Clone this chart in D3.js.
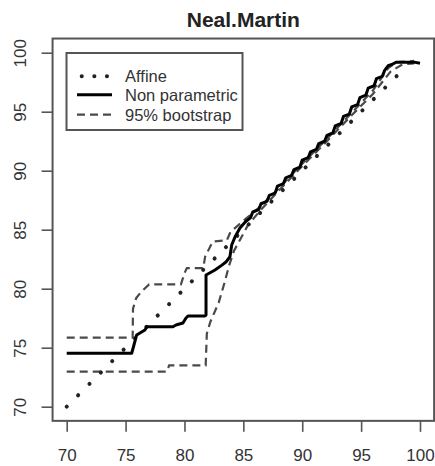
<!DOCTYPE html>
<html>
<head>
<meta charset="utf-8">
<script src="https://cdn.jsdelivr.net/npm/d3@7"></script>
<style>
  body { margin: 0; background: #fff; }
  text { font-family: "Liberation Sans", Arial, sans-serif; }
</style>
</head>
<body>
<svg id="chart"></svg>
<script>
// chart title and legend labels
var title = "Neal.Martin";
var legendLabels = ["Affine", "Non parametric", "95% bootstrap"];

// tick labels
var xTicks = [70, 75, 80, 85, 90, 95, 100];
var yTicks = [70, 75, 80, 85, 90, 95, 100];

// affine fit (dotted)
var affineX = [70, 98.3];
var affineY = [70, 98.3];

// non parametric estimate (solid)
var npX = [70, 75.52, 75.71, 75.94, 76.22, 76.64, 76.82, 79.02, 79.28, 79.87, 80.13, 80.30, 81.74, 81.83, 81.83,
           82.59, 83.18, 83.52, 83.86, 84.01, 84.29, 84.71, 85.2, 85.6, 85.8, 86.3, 86.5, 87.0, 87.2, 87.7, 87.9,
           88.4, 88.6, 89.1, 89.3, 89.8, 90.0, 90.5, 90.7, 91.2, 91.4, 91.9, 92.1, 92.6, 92.8, 93.3, 93.5, 94.0,
           94.2, 94.7, 94.9, 95.4, 95.6, 96.1, 96.3, 96.8, 97.0, 97.3, 97.6, 98.0, 98.5, 99.0, 99.5, 100.0];
var npY = [74.53, 74.53, 75.23, 76.08, 76.25, 76.5, 76.78, 76.78, 76.92, 77.09, 77.52, 77.69, 77.69, 77.77, 81.16,
           81.58, 82.0, 82.26, 82.71, 83.70, 84.38, 85.14, 85.7, 86.0, 86.5, 86.7, 87.2, 87.4, 87.9, 88.1, 88.7,
           88.9, 89.4, 89.6, 90.1, 90.3, 90.9, 91.1, 91.6, 91.8, 92.3, 92.5, 93.0, 93.2, 93.8, 94.0, 94.6, 94.8,
           95.4, 95.6, 96.2, 96.4, 97.0, 97.2, 97.8, 98.0, 98.5, 98.9, 99.0, 99.2, 99.2, 99.2, 99.2, 99.1];

// 95% bootstrap band (dashed)
var upperX = [70, 75.6, 75.63, 75.9, 76.3, 77.0, 79.7, 80.0, 80.2, 81.6, 81.75, 82.4, 83.6, 83.9, 84.7, 85.3,
              86.5, 88, 90, 92, 94, 96, 97.3, 98, 99.5];
var upperY = [75.85, 75.85, 78.3, 79.2, 79.7, 80.37, 80.37, 81.3, 81.75, 81.75, 82.7, 84.0, 84.1, 84.8, 85.5, 86.0,
              87.0, 88.5, 90.6, 92.6, 94.7, 96.8, 98.7, 99.2, 99.3];
var lowerX = [70, 78.5, 78.7, 81.8, 81.9, 82.2, 82.9, 83.4, 83.8, 84.2, 84.8, 85.4,
              86.5, 88, 90, 92, 94, 96, 97.5, 98.5, 99.5];
var lowerY = [72.97, 72.97, 73.5, 73.5, 76.2, 77.2, 78.8, 80.5, 82.0, 83.2, 84.3, 85.4,
              86.7, 88.3, 90.4, 92.4, 94.5, 96.5, 98.4, 99.0, 99.1];

//Width and height of svg
var w = 435;
var h = 466;

//Create scale functions
var xScale = d3.scaleLinear().domain([70, 100]).range([66.7, 420]);
var yScale = d3.scaleLinear().domain([70, 100]).range([406.7, 52.7]);

// plot region (R style, 4% beyond data range)
var x0 = xScale(68.8), x1 = xScale(101.2);
var y0 = yScale(68.8), y1 = yScale(101.2);

var svg = d3.select("#chart")
            .attr("width", w)
            .attr("height", h);

function toPoints(xs, ys) {
    return xs.map(function(d, i) { return [d, ys[i]]; });
}

var line = d3.line()
             .x(function(d) { return xScale(d[0]); })
             .y(function(d) { return yScale(d[1]); });

var plot = svg.append("g");

// bootstrap band
[toPoints(upperX, upperY), toPoints(lowerX, lowerY)].forEach(function(pts) {
    plot.append("path")
        .datum(pts)
        .attr("d", line)
        .attr("fill", "none")
        .attr("stroke", "#4a4a4a")
        .attr("stroke-width", 2.2)
        .attr("stroke-dasharray", "8,5");
});

// affine
plot.append("path")
    .datum(toPoints(affineX, affineY))
    .attr("d", line)
    .attr("fill", "none")
    .attr("stroke", "#222")
    .attr("stroke-width", 4)
    .attr("stroke-linecap", "round")
    .attr("stroke-dasharray", "0.1,16");

// non parametric
plot.append("path")
    .datum(toPoints(npX, npY))
    .attr("d", line)
    .attr("fill", "none")
    .attr("stroke", "#000")
    .attr("stroke-width", 3)
    .attr("stroke-linejoin", "round");

// box
svg.append("rect")
    .attr("x", x0)
    .attr("y", y1)
    .attr("width", x1 - x0)
    .attr("height", y0 - y1)
    .attr("fill", "none")
    .attr("stroke", "#555")
    .attr("stroke-width", 2);

//Define X axis
var xAxis = d3.axisBottom()
              .scale(xScale)
              .tickValues(xTicks)
              .tickSize(11)
              .tickPadding(17)
              .tickFormat(d3.format("d"));

//Define Y axis
var yAxis = d3.axisLeft()
              .scale(yScale)
              .tickValues(yTicks)
              .tickSize(11)
              .tickFormat(d3.format("d"));

//Create X axis
var gx = svg.append("g")
    .attr("transform", "translate(0," + y0 + ")")
    .call(xAxis);
gx.select(".domain").remove();
gx.selectAll(".tick line").attr("stroke", "#555").attr("stroke-width", 1.6);
gx.selectAll(".tick text")
    .attr("fill", "#333")
    .style("font-size", "17px")
    .style("font-family", "'Liberation Sans', Arial, sans-serif");

//Create Y axis
var gy = svg.append("g")
    .attr("transform", "translate(" + x0 + ",0)")
    .call(yAxis);
gy.select(".domain").remove();
gy.selectAll(".tick line").attr("stroke", "#555").attr("stroke-width", 1.6);
gy.selectAll(".tick text")
    .attr("x", 0)
    .attr("dy", 0)
    .attr("text-anchor", "middle")
    .attr("transform", "translate(-26.5,0) rotate(-90)")
    .attr("fill", "#333")
    .style("font-size", "17px")
    .style("font-family", "'Liberation Sans', Arial, sans-serif");

// title
svg.append("text")
    .attr("x", (x0 + x1) / 2)
    .attr("y", 27)
    .attr("text-anchor", "middle")
    .attr("font-weight", "bold")
    .attr("font-size", "21px")
    .attr("fill", "#222")
    .text(title);

// legend
var legend = svg.append("g");
legend.append("rect")
    .attr("x", 66.5)
    .attr("y", 53)
    .attr("width", 176)
    .attr("height", 77)
    .attr("fill", "#fff")
    .attr("stroke", "#555")
    .attr("stroke-width", 2);

var legendStyles = [
    { stroke: "#222", width: 4, dash: "0.1,12.5", cap: "round" },
    { stroke: "#000", width: 3, dash: null, cap: "butt" },
    { stroke: "#4a4a4a", width: 2.2, dash: "8,5", cap: "butt" }
];
var legendRows = [76.3, 94.7, 114.7];

legendLabels.forEach(function(label, i) {
    var s = legendStyles[i];
    legend.append("line")
        .attr("x1", i == 0 ? 81.7 : 77)
        .attr("x2", i == 0 ? 107 : 112)
        .attr("y1", legendRows[i])
        .attr("y2", legendRows[i])
        .attr("stroke", s.stroke)
        .attr("stroke-width", s.width)
        .attr("stroke-linecap", s.cap)
        .attr("stroke-dasharray", s.dash);
    legend.append("text")
        .attr("x", 125)
        .attr("y", legendRows[i] + 5.8)
        .attr("font-size", "16.5px")
        .attr("fill", "#333")
        .text(label);
});
</script>
</body>
</html>
